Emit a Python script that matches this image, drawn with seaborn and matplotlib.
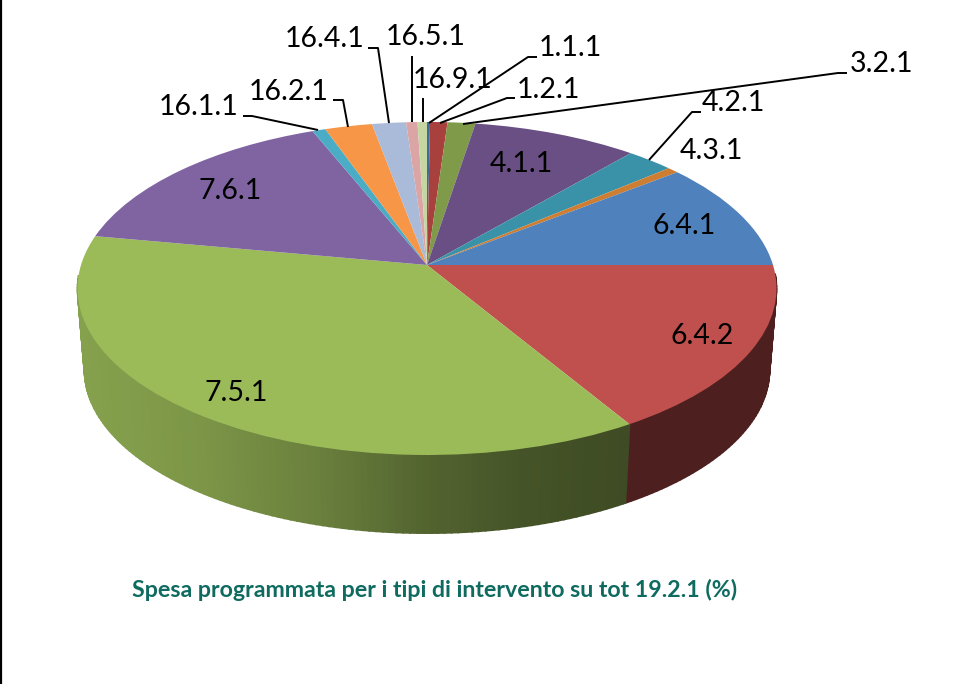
import matplotlib
matplotlib.use('Agg')
import matplotlib.pyplot as plt
import numpy as np
import seaborn as sns
from matplotlib.transforms import Transform

# share of each intervention type, clockwise from 12 o'clock (%)
categories = ['1.1.1', '1.2.1', '3.2.1', '4.1.1', '4.2.1', '4.3.1', '6.4.1', '6.4.2',
              '7.5.1', '7.6.1', '16.1.1', '16.2.1', '16.4.1', '16.5.1', '16.9.1']
values = [0.16, 0.92, 1.47, 8.75, 2.5, 0.6, 10.6, 16.4, 36.5, 16.0, 0.7, 2.5, 1.8, 0.6, 0.5]
colors = ['#3B6E9C', '#A8403D', '#7F9A48', '#6A4F84', '#3A92A8', '#CE7E33', '#4F81BD', '#C0504D',
          '#9BBB59', '#8064A2', '#4BACC6', '#F79646', '#A9BBD9', '#DAA5A4', '#C5D6A3']
caption = 'Spesa programmata per i tipi di intervento su tot 19.2.1 (%)'

# label anchors in pixels
label_xy = {
    '1.1.1': (539, 48), '1.2.1': (517, 90), '3.2.1': (850, 64), '4.1.1': (490, 164),
    '4.2.1': (702, 103), '4.3.1': (680, 151), '6.4.1': (653, 226), '6.4.2': (670, 336),
    '7.5.1': (205, 393), '7.6.1': (198, 191), '16.1.1': (159, 107), '16.2.1': (249, 92),
    '16.4.1': (285, 39), '16.5.1': (386, 37), '16.9.1': (413, 80),
}
# leader lines: rim point, knee, end
leaders = [
    [(429, 123), (528, 57), (537, 57)],
    [(440, 123), (507, 98), (515, 98)],
    [(463, 124), (838, 73), (847, 73)],
    [(649, 160), (692, 112), (701, 112)],
    [(318, 130), (252, 116), (243, 116)],
    [(348, 127), (343, 100), (333, 100)],
    [(389, 123), (378, 48), (368, 48)],
    [(412, 122), (412, 56)],
    [(423, 122), (423, 98)],
]

CX, CY = 427, 265   # where the slices meet
A, B, K = 346, 163.2, 0.141
ELL_Y = 288.5       # centre of the rim ellipse
DEPTH = 81.5
BOTTOM_SCALE = 0.98


class PieProjection(Transform):
    """Tilts the unit circle of the pie into the perspective ellipse, output in pixels."""
    input_dims = 2
    output_dims = 2

    def transform_non_affine(self, values):
        values = np.asarray(values, dtype=float)
        x, y = values[:, 0], values[:, 1]
        w = 1 + K * y
        return np.column_stack([CX + A * x / w, CY - B * y / w])


def wall_shade(px):
    return np.interp(px, [85, 200, 330, 430, 520, 630, 780],
                     [0.86, 0.80, 0.67, 0.53, 0.45, 0.40, 0.40])


sns.set_theme(style='white')
plt.rcParams['font.family'] = ['Lato', 'DejaVu Sans']
palette = sns.color_palette(colors)

fig = plt.figure(figsize=(9.73, 6.84), dpi=100, facecolor='white')
ax = fig.add_axes([0, 0, 1, 1])

wedges, _ = ax.pie(values, colors=palette, startangle=90, counterclock=False,
                   wedgeprops=dict(linewidth=0, zorder=3))
ax.set_aspect('auto')
ax.set_xlim(0, 973)
ax.set_ylim(684, 0)
ax.axis('off')

proj = PieProjection()
for w in wedges:
    w.set_transform(proj + ax.transData)

# side wall, thin strips so the shading can change along the rim
for w, col in zip(wedges, palette):
    t = np.deg2rad(np.arange(w.theta1, w.theta2 + 1.0, 1.0))
    t = np.append(t[t < np.deg2rad(w.theta2)], np.deg2rad(w.theta2))
    top = proj.transform_non_affine(np.column_stack([np.cos(t), np.sin(t)]))
    bot = np.column_stack([CX + BOTTOM_SCALE * (top[:, 0] - CX),
                           ELL_Y + DEPTH + BOTTOM_SCALE * (top[:, 1] - ELL_Y)])
    for i in range(len(t) - 1):
        if np.sin(t[i]) > -0.05 or np.sin(t[i + 1]) > -0.05:
            continue
        shade = wall_shade(top[i:i + 2, 0].mean())
        c = tuple(np.array(col) * shade)
        ax.fill([top[i, 0], top[i + 1, 0], bot[i + 1, 0], bot[i, 0]],
                [top[i, 1], top[i + 1, 1], bot[i + 1, 1], bot[i, 1]],
                color=c, lw=1.2, zorder=2)

for pts in leaders:
    xs, ys = zip(*pts)
    ax.plot(xs, ys, color='black', lw=1.4, zorder=4, solid_capstyle='butt')

for name in categories:
    x, y = label_xy[name]
    ax.text(x, y, name, fontsize=20.5, color='black', ha='left', va='center', zorder=5)

ax.text(435, 590, caption, fontsize=16.7, fontweight='bold', color='#0F6B60',
        ha='center', va='center', zorder=5)

# black rule down the left edge of the picture
ax.axvline(0.8, color='black', lw=1.6, zorder=5)

fig.savefig('out.png', dpi=100, facecolor='white')
